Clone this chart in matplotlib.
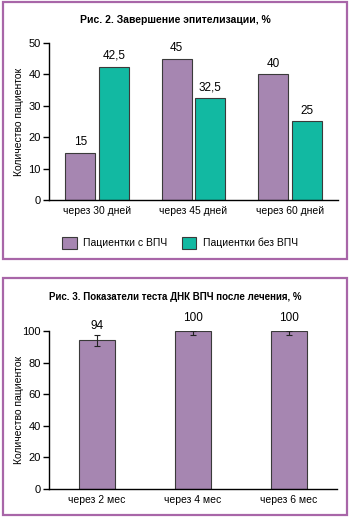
import matplotlib.pyplot as plt
from matplotlib.patches import Rectangle
import numpy as np

plt.rcParams['font.family'] = ['Liberation Sans', 'DejaVu Sans']

# Fig. 2 data
periods2 = ['через 30 дней', 'через 45 дней', 'через 60 дней']
hpv_pos = [15, 45, 40]
hpv_neg = [42.5, 32.5, 25]
series_names = ['Пациентки с ВПЧ', 'Пациентки без ВПЧ']

# Fig. 3 data
periods3 = ['через 2 мес', 'через 4 мес', 'через 6 мес']
dna_test = [94, 100, 100]
err_low = [3.5, 2.5, 2.5]
err_high = [3.5, 0, 0]

PURPLE = '#a686b1'
TEAL = '#12b9a2'
EDGE = '#3a3a3a'
FRAME = '#a866a8'

W, H = 350, 520
fig = plt.figure(figsize=(W / 100, H / 100), dpi=100)


def px_axes(left, top, right, bottom):
    return fig.add_axes([left / W, 1 - bottom / H, (right - left) / W, (bottom - top) / H])


def style(ax):
    ax.spines['top'].set_visible(False)
    ax.spines['right'].set_visible(False)
    ax.spines['left'].set_linewidth(1.0)
    ax.spines['bottom'].set_linewidth(1.0)
    ax.tick_params(axis='y', length=4, width=1.0, labelsize=8, pad=2)
    ax.tick_params(axis='x', length=0, labelsize=7.5, pad=4)
    ax.set_xlim(-0.5, 2.5)
    ax.set_ylabel('Количество пациенток', fontsize=7.5, va='center')
    ax.yaxis.set_label_coords(-30 / 288, 0.5)


# frames around the two figures
for (l, t, r, b) in [(3, 2, 347, 259), (3, 278, 347, 515)]:
    fig.add_artist(Rectangle((l / W, 1 - b / H), (r - l) / W, (b - t) / H,
                             transform=fig.transFigure, fill=False,
                             edgecolor=FRAME, linewidth=1.6))

# ---- Fig. 2 ----
ax1 = px_axes(49, 43, 338, 200)
x = np.arange(len(periods2))
bw = 0.31
b1 = ax1.bar(x - 0.174, hpv_pos, bw, color=PURPLE, edgecolor=EDGE, linewidth=0.8,
             label=series_names[0])
b2 = ax1.bar(x + 0.174, hpv_neg, bw, color=TEAL, edgecolor=EDGE, linewidth=0.8,
             label=series_names[1])
for bars, vals in [(b1, hpv_pos), (b2, hpv_neg)]:
    ax1.bar_label(bars, labels=[str(v).replace('.', ',') for v in vals],
                  padding=3.5, fontsize=8.5)
ax1.set_ylim(0, 50)
ax1.set_yticks(range(0, 51, 10))
ax1.set_xticks(x)
ax1.set_xticklabels(periods2)
style(ax1)
fig.text(175 / W, 1 - 20 / H, 'Рис. 2. Завершение эпителизации, %',
         ha='center', va='center', fontsize=7.5, fontweight='bold')
fig.legend(handles=[b1, b2], labels=series_names, loc='center left',
           bbox_to_anchor=(57 / W, 1 - 243 / H), ncol=2, frameon=False,
           fontsize=7.5, handlelength=1.4, handleheight=1.4, handletextpad=0.6,
           columnspacing=1.4, borderpad=0)

# ---- Fig. 3 ----
ax2 = px_axes(49, 331, 337, 489)
x3 = np.arange(len(periods3))
b3 = ax2.bar(x3, dna_test, 0.365, color=PURPLE, edgecolor=EDGE, linewidth=0.8,
             yerr=[err_low, err_high], capsize=2,
             error_kw=dict(elinewidth=0.8, capthick=0.8, ecolor='#222222'))
for xi, v, eh in zip(x3, dna_test, err_high):
    ax2.annotate(str(v), (xi, v + eh), xytext=(0, 2 if eh else 5),
                 textcoords='offset points', ha='center', va='bottom', fontsize=8.5)
ax2.set_ylim(0, 100)
ax2.set_yticks(range(0, 101, 20))
ax2.set_xticks(x3)
ax2.set_xticklabels(periods3)
style(ax2)
fig.text(175 / W, 1 - 297 / H, 'Рис. 3. Показатели теста ДНК ВПЧ после лечения, %',
         ha='center', va='center', fontsize=7, fontweight='bold')

fig.savefig('out.png', dpi=100)
